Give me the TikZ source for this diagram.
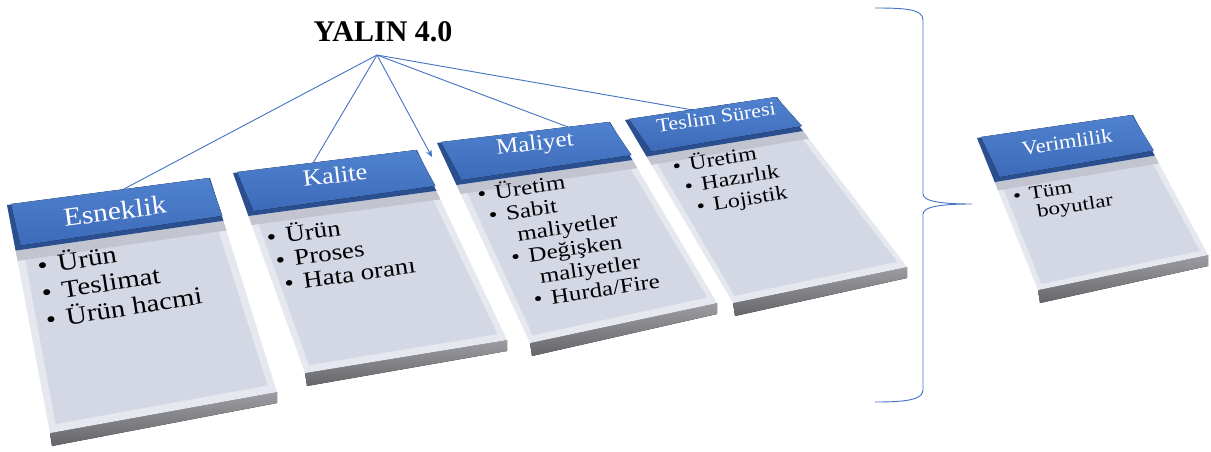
\documentclass[tikz,border=0pt]{standalone}
\usepackage{fontspec}
\setmainfont{Liberation Serif}
\usetikzlibrary{calc,arrows.meta}
\definecolor{hdrtop}{HTML}{5082D0}
\definecolor{hdrbot}{HTML}{3C6AB8}
\definecolor{hdrside}{HTML}{2B4F8E}
\definecolor{bodyc}{HTML}{D4D7E4}
\definecolor{bevelc}{HTML}{E6E8EF}
\definecolor{bandc}{HTML}{C2C5D0}
\definecolor{basetop}{HTML}{9C9CA2}
\definecolor{basebot}{HTML}{66666A}
\definecolor{linkc}{HTML}{4472C4}
% #1 name, #2..#5 corners a b c d, #6 header fraction, #7 band end fraction
\newcommand\mkcard[7]{%
  \coordinate (#1-a) at #2;
  \coordinate (#1-b) at #3;
  \coordinate (#1-c) at #4;
  \coordinate (#1-d) at #5;
  \coordinate (#1-hl) at ($(#1-a)!#6!(#1-d)$);
  \coordinate (#1-hr) at ($(#1-b)!#6!(#1-c)$);
  \coordinate (#1-bl) at ($(#1-a)!#7!(#1-d)$);
  \coordinate (#1-br) at ($(#1-b)!#7!(#1-c)$);
  \fill[top color=basetop,bottom color=basebot] (#1-d) -- (#1-c) -- ($(#1-c)+(0,11)$) -- ($(#1-d)+(2,13)$) -- cycle;
  \fill[bevelc] (#1-a) -- (#1-b) -- (#1-c) -- (#1-d) -- cycle;
  \fill[bodyc] ($(#1-a)!0.035!(#1-c)$) -- ($(#1-b)!0.035!(#1-d)$) -- ($(#1-c)!0.035!(#1-a)$) -- ($(#1-d)!0.035!(#1-b)$) -- cycle;
  \fill[bandc] (#1-hl) -- (#1-hr) -- (#1-br) -- (#1-bl) -- cycle;
  \fill[hdrside] (#1-a) -- (#1-b) -- (#1-hr) -- (#1-hl) -- cycle;
  \fill[top color=hdrtop,bottom color=hdrbot] ($(#1-a)+(4,-1)$) -- ($(#1-b)+(-1,0)$) -- ($(#1-hr)+(-1,-5)$) -- ($(#1-hl)+(5,-5)$) -- cycle;
}
\tikzset{
  link/.style={draw=linkc,line width=0.9pt},
  linkarrow/.style={link,-{Stealth[length=7pt,width=6pt]}},
  hdrtext/.style={text=white,inner sep=0pt},
  itemtext/.style={anchor=north west,inner sep=0pt,align=left},
  brace/.style={draw=linkc,line width=0.9pt}
}
\newcommand\itm[2]{\hspace*{#1pt}\makebox[0.7em][l]{\textbullet}#2}
\newcommand\cnt[2]{\hspace*{#1pt}\hspace*{0.7em}#2}
\begin{document}
\begin{tikzpicture}[x=1pt,y=-1pt]
\useasboundingbox (0,0) rectangle (1211,451);
\fill[white] (0,0) rectangle (1211,451);

% title
\node[font=\bfseries\fontsize{30}{30}\selectfont,inner sep=0pt] (yalin) at (383,32) {YALIN 4.0};
\coordinate (hub) at (377,55);
\coordinate (t1) at (122,190);
\coordinate (t2) at (313,163);
\coordinate (t3) at (432,157);
\coordinate (t4) at (568,127);
\coordinate (t5) at (693,110);
\draw[link] (hub) -- (t1);
\draw[link] (hub) -- (t2);
\draw[linkarrow] (hub) -- (t3);
\draw[link] (hub) -- (t4);
\draw[link] (hub) -- (t5);

% cards
\mkcard{c1}{(7,205)}{(210,178)}{(277,392)}{(50,433)}{0.2}{0.245}
\mkcard{c2}{(233,173)}{(417,150)}{(507,340)}{(305,373)}{0.215}{0.26}
\mkcard{c3}{(437,143)}{(610,122)}{(717,303)}{(530,343)}{0.21}{0.255}
\mkcard{c4}{(625,120)}{(777,97)}{(907,267)}{(733,303)}{0.2}{0.245}
\mkcard{c5}{(977,138)}{(1133,115)}{(1208,255)}{(1038,290)}{0.29}{0.345}

% headers
\node[hdrtext,rotate=7.5,yscale=0.88,font=\fontsize{29.5}{30}\selectfont] (h1) at (115,211) {Esneklik};
\node[hdrtext,rotate=7,yscale=0.88,font=\fontsize{26.5}{27}\selectfont] (h2) at (335,175) {Kalite};
\node[hdrtext,rotate=7,yscale=0.88,font=\fontsize{25}{25}\selectfont] (h3) at (535,145) {Maliyet};
\node[hdrtext,rotate=8.5,yscale=0.88,font=\fontsize{22}{22}\selectfont] (h4) at (716,117) {Teslim Süresi};
\node[hdrtext,rotate=8.5,yscale=0.88,font=\fontsize{22.5}{23}\selectfont] (h5) at (1067,142) {Verimlilik};

% items
\node[itemtext,rotate=9,yscale=0.85,font=\fontsize{29}{31.8}\selectfont] (i1) at (35.5,255)
  {\strut\itm{0}{Ürün}\\ \itm{0}{Teslimat}\\ \itm{0}{Ürün hacmi}};
\node[itemtext,rotate=8,yscale=0.85,font=\fontsize{27}{28}\selectfont] (i2) at (265,227)
  {\strut\itm{0}{Ürün}\\ \itm{5.7}{Proses}\\ \itm{11.4}{Hata oranı}};
\node[itemtext,rotate=8.5,yscale=0.83,font=\fontsize{25}{27}\selectfont] (i3) at (476,185)
  {\strut\itm{0}{Üretim}\\ \itm{8}{Sabit}\\ \cnt{16}{maliyetler}\\ \itm{24}{Değişken}\\ \cnt{32}{maliyetler}\\ \itm{40}{Hurda/Fire}};
\node[itemtext,rotate=9.5,yscale=0.83,font=\fontsize{24}{26.5}\selectfont] (i4) at (671,157)
  {\strut\itm{0}{Üretim}\\ \itm{8.5}{Hazırlık}\\ \itm{17}{Lojistik}};
\node[itemtext,rotate=9,yscale=0.8,font=\fontsize{23}{22.5}\selectfont] (i5) at (1012,189.5)
  {\strut\itm{0}{Tüm}\\ \cnt{5}{boyutlar}};

% brace
\draw[brace] (875,8) .. controls (905,8) and (923,9) .. (923,20) -- (923,194)
  .. controls (923,202) and (945,204) .. (972,204)
  .. controls (945,204) and (923,206) .. (923,214) -- (923,390)
  .. controls (923,400) and (905,402) .. (875,402);
\end{tikzpicture}
\end{document}
